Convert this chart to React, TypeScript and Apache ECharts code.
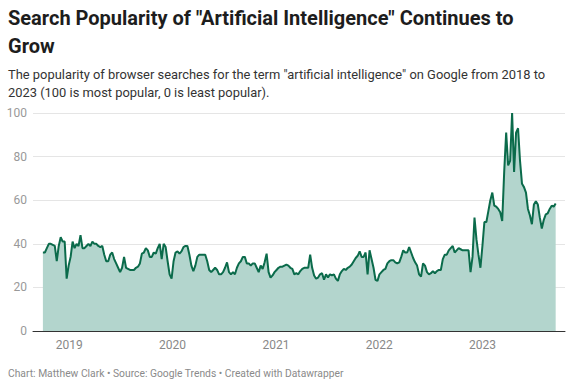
import React, { useEffect, useRef } from "react";
import * as echarts from "echarts";

// Weekly Google Trends index (Sep 2018 – Sep 2023)
const late2018to2019 = [36,36,38,40,40,39.5,39,32,39,43,41,41,24,30,34,41,38,40,39,44,38,38,39,40,39,41,40,40,39,38.5,39,35,32,32,35,36,33,31,29,27,29,34,29];
const late2019to2020 = [28.5,28,28,28,29,29.5,31,35.5,36,38,37,34,34,36,35.5,38,40,33,40,38.5,32,26,24,32,36,36.5,35.5,36.5,38.5,39,39,35,30,27.5,30,34,35,35,35,35,32,28,27,28,29];
const late2020to2021 = [28,26,26,27,29,31.5,27,26,27,26,29,31,32,34,34,31,31,30,31,31,29,27,30,28.5,31.5,35.5,27,24.5,25.5,27,28,29,29.5,29.5,30,30.5,30,29,28.5,26,26.5,26,27.5,28.5];
const late2021to2022 = [29,29,29,35,29,25.5,24,24.5,26,26.5,23.5,26,24.5,26,25.5,26,24,23,26,27.5,28.5,28,29,29.5,30.5,32,33.5,34.5,36.5,34,34,36,26,37,33,29,23.5,23,26,27,28,28.5,31,32,32.5];
const late2022to2023 = [32.5,31.5,31,31.5,34,37,36,36,38.5,36,33.5,31.5,30,26,25,31,30,27,26,26.5,27.5,26.5,27.5,28,28,33,35,35,37,38,39,36,37,38,37.5,37,37,37,37,27,34,52,42,35,29];
const year2023 = [39,50,50,55,60,63.5,57.5,57,56,54.5,50.5,73,91,76,78,100,73,91,93,78,67.5,66,63.5,56,53,49,58,59.5,58,52,47,51,53.5,54,56,57.5,57,58.5];

const popularity = [
  ...late2018to2019,
  ...late2019to2020,
  ...late2020to2021,
  ...late2021to2022,
  ...late2022to2023,
  ...year2023,
];

const firstWeek = new Date(2018, 8, 30).getTime();
const WEEK_MS = 7 * 24 * 3600 * 1000;
const yTicks = [0, 20, 40, 60, 80, 100];

const titleText = 'Search Popularity of "Artificial Intelligence" Continues to\nGrow';
const subtitleText =
  'The popularity of browser searches for the term "artificial intelligence" on Google from 2018 to\n2023 (100 is most popular, 0 is least popular).';
const footerText = "Chart: Matthew Clark • Source: Google Trends • Created with Datawrapper";

export default function App() {
  const ref = useRef<HTMLDivElement>(null);

  useEffect(() => {
    if (!ref.current) return;
    const chart = echarts.init(ref.current, undefined, { renderer: "svg" });
    const seriesData = popularity.map((v, i) => [firstWeek + i * WEEK_MS, v]);
    chart.setOption({
      animation: false,
      backgroundColor: "#ffffff",
      textStyle: { fontFamily: "Roboto, sans-serif" },
      graphic: [
        {
          type: "text",
          left: 8,
          top: 4,
          style: {
            text: titleText,
            fontFamily: "Roboto, sans-serif",
            fontSize: 20,
            fontWeight: "bold",
            lineHeight: 28,
            fill: "#1d1d1d",
          },
        },
        {
          type: "text",
          left: 8,
          top: 66,
          style: {
            text: subtitleText,
            fontFamily: "Roboto, sans-serif",
            fontSize: 12.9,
            lineHeight: 17.5,
            fill: "#333333",
          },
        },
        {
          type: "text",
          left: 8,
          top: 368,
          style: {
            text: footerText,
            fontFamily: "Roboto, sans-serif",
            fontSize: 10.3,
            fill: "#8a8a8a",
          },
        },
      ],
      grid: { left: 33, right: 10, top: 113, bottom: 59, containLabel: false },
      xAxis: {
        type: "time",
        min: new Date(2018, 7, 26).getTime(),
        max: new Date(2023, 9, 20).getTime(),
        minInterval: 300 * 24 * 3600 * 1000,
        splitLine: { show: false },
        axisTick: { show: false },
        axisLine: { show: true, lineStyle: { color: "#333333", width: 1 } },
        axisLabel: {
          showMinLabel: false,
          showMaxLabel: false,
          color: "#888888",
          fontSize: 12,
          fontFamily: "Roboto, sans-serif",
          margin: 8,
          formatter: (v: number) => {
            const d = new Date(v);
            return d.getMonth() === 0 && d.getDate() === 1 ? String(d.getFullYear()) : "";
          },
        },
      },
      yAxis: {
        type: "value",
        min: yTicks[0],
        max: yTicks[yTicks.length - 1],
        interval: 20,
        axisLine: { show: false },
        axisTick: { show: false },
        splitLine: { lineStyle: { color: "#e5e5e5", width: 1 } },
        axisLabel: {
          color: "#999999",
          fontSize: 12,
          fontFamily: "Roboto, sans-serif",
          margin: 6,
        },
      },
      series: [
        {
          type: "line",
          data: seriesData,
          showSymbol: false,
          symbol: "none",
          lineStyle: { color: "#0b6b4b", width: 2 },
          areaStyle: { color: "#b3d5cd", opacity: 1 },
          z: 1,
        },
      ],
    });
    return () => chart.dispose();
  }, []);

  return (
    <div style={{ position: "fixed", left: 0, top: 0, width: 575, height: 390, background: "#fff" }}>
      <div ref={ref} style={{ width: 575, height: 390 }} />
    </div>
  );
}
